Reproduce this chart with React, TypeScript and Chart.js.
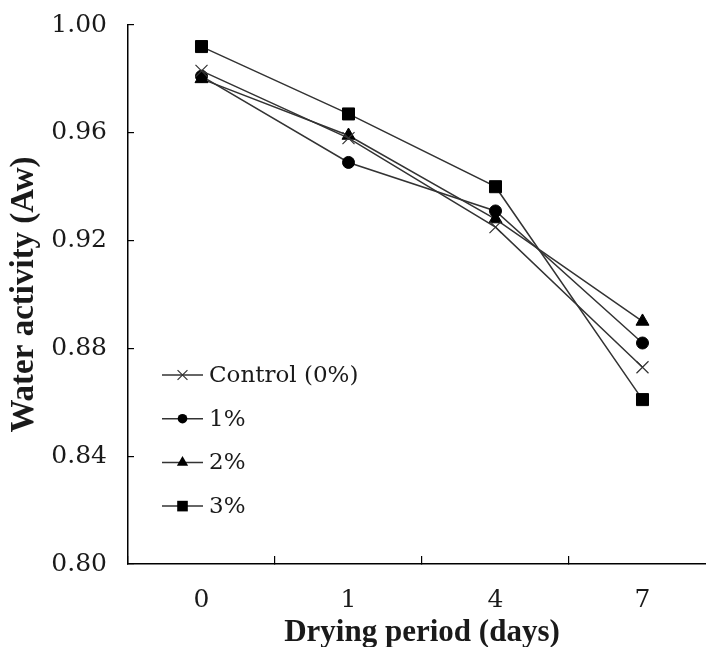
import React, { useEffect, useRef } from 'react';
import { Chart, registerables } from 'chart.js';

Chart.register(...registerables);

const days = ['0', '1', '4', '7'];
const seriesNames = ['Control (0%)', '1%', '2%', '3%'];
const controlAw = [0.983, 0.958, 0.925, 0.873];
const pct1Aw = [0.981, 0.949, 0.931, 0.882];
const pct2Aw = [0.98, 0.959, 0.928, 0.89];
const pct3Aw = [0.992, 0.967, 0.94, 0.861];
const yTicks = [0.8, 0.84, 0.88, 0.92, 0.96, 1.0];

const LINE = '#333';
const INK = '#1a1a1a';

function drawMarker(ctx: CanvasRenderingContext2D, style: string, x: number, y: number, r: number) {
  ctx.save();
  ctx.fillStyle = '#000';
  ctx.strokeStyle = LINE;
  ctx.lineWidth = 1.2;
  ctx.beginPath();
  if (style === 'circle') {
    ctx.arc(x, y, r, 0, Math.PI * 2);
    ctx.fill();
  } else if (style === 'triangle') {
    ctx.moveTo(x, y - r);
    ctx.lineTo(x + r * 0.866, y + r * 0.5);
    ctx.lineTo(x - r * 0.866, y + r * 0.5);
    ctx.closePath();
    ctx.fill();
  } else if (style === 'rect') {
    const s = r * Math.SQRT1_2;
    ctx.fillRect(x - s, y - s, 2 * s, 2 * s);
  } else {
    const s = r * Math.SQRT1_2;
    ctx.moveTo(x - s, y - s);
    ctx.lineTo(x + s, y + s);
    ctx.moveTo(x + s, y - s);
    ctx.lineTo(x - s, y + s);
    ctx.stroke();
  }
  ctx.restore();
}

const insideLegend = {
  id: 'insideLegend',
  afterDatasetsDraw(chart: any) {
    const ctx: CanvasRenderingContext2D = chart.ctx;
    const { left, top } = chart.chartArea;
    const legendSizes = [7, 4.8, 6.5, 7.5];
    chart.data.datasets.forEach((ds: any, i: number) => {
      const y = top + 350 + i * 43.7;
      const x0 = left + 34;
      const x1 = left + 75;
      ctx.save();
      ctx.strokeStyle = LINE;
      ctx.lineWidth = 1.5;
      ctx.beginPath();
      ctx.moveTo(x0, y);
      ctx.lineTo(x1, y);
      ctx.stroke();
      drawMarker(ctx, ds.pointStyle, (x0 + x1) / 2, y, legendSizes[i]);
      ctx.fillStyle = INK;
      ctx.font = '23px "DejaVu Serif"';
      ctx.textBaseline = 'middle';
      ctx.textAlign = 'left';
      ctx.fillText(ds.label, x1 + 6, y + 1);
      ctx.restore();
    });
  },
};

export default function App() {
  const ref = useRef<HTMLCanvasElement | null>(null);

  useEffect(() => {
    if (!ref.current) return;
    const mk = (label: string, data: number[], pointStyle: string, radius: number) => ({
      label,
      data,
      pointStyle,
      pointRadius: radius,
      pointHoverRadius: radius,
      borderColor: LINE,
      borderWidth: 1.5,
      pointBackgroundColor: '#000',
      pointBorderColor: pointStyle === 'crossRot' ? LINE : '#000',
      pointBorderWidth: pointStyle === 'crossRot' ? 1.2 : 1,
      fill: false,
      tension: 0,
    });
    const chart = new Chart(ref.current, {
      type: 'line',
      data: {
        labels: days,
        datasets: [
          mk(seriesNames[0], controlAw, 'crossRot', 8.5),
          mk(seriesNames[1], pct1Aw, 'circle', 6),
          mk(seriesNames[2], pct2Aw, 'triangle', 7.5),
          mk(seriesNames[3], pct3Aw, 'rect', 8.5),
        ] as any,
      },
      options: {
        responsive: false,
        animation: false,
        layout: { padding: { top: 25, left: 0, right: 14, bottom: 0 } },
        plugins: {
          legend: { display: false },
          tooltip: { enabled: false },
        },
        scales: {
          x: {
            type: 'category',
            offset: true,
            grid: {
              offset: true,
              drawOnChartArea: false,
              drawTicks: true,
              tickLength: -8,
              color: '#000',
              lineWidth: 1.2,
            },
            border: { display: true, color: '#000', width: 1.5 },
            ticks: {
              padding: 29,
              color: INK,
              font: { family: '"DejaVu Serif"', size: 25 },
              maxRotation: 0,
            },
            title: {
              display: true,
              text: 'Drying period (days)',
              color: INK,
              font: { family: '"Liberation Serif"', size: 31, weight: 'bold' },
              padding: { top: 0, bottom: 28 },
            },
            afterFit: (s: any) => {
              s.height = 116;
              s.paddingLeft = 0;
              s.paddingRight = 0;
            },
          },
          y: {
            type: 'linear',
            min: 0.8,
            max: 1.0,
            grid: {
              drawOnChartArea: false,
              drawTicks: true,
              tickLength: -6,
              color: '#000',
              lineWidth: 1.2,
            },
            border: { display: true, color: '#000', width: 1.5 },
            afterBuildTicks: (s: any) => {
              s.ticks = yTicks.map((v) => ({ value: v }));
            },
            ticks: {
              padding: 27,
              color: INK,
              font: { family: '"DejaVu Serif"', size: 25 },
              callback: (v: any) => Number(v).toFixed(2),
            },
            title: {
              display: true,
              text: 'Water activity (Aw)',
              color: INK,
              font: { family: '"Liberation Serif"', size: 33, weight: 'bold' },
              padding: { top: 5, bottom: 0 },
            },
            afterFit: (s: any) => {
              s.width = 128;
              s.paddingTop = 0;
              s.paddingBottom = 0;
            },
          },
        },
      },
      plugins: [insideLegend],
    });
    return () => chart.destroy();
  }, []);

  return (
    <div
      style={{
        position: 'fixed',
        left: 0,
        top: 0,
        width: 706,
        height: 647,
        overflow: 'hidden',
        background: '#fff',
      }}
    >
      <canvas ref={ref} width={730} height={680} style={{ display: 'block' }} />
    </div>
  );
}
